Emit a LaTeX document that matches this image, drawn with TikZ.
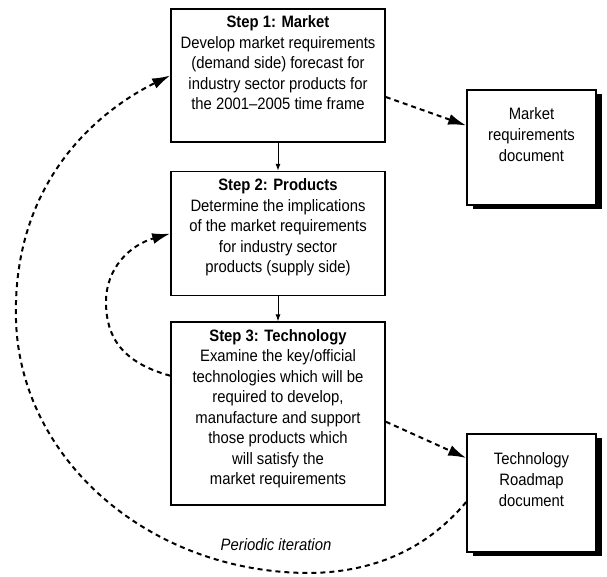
\documentclass[tikz,border=0pt]{standalone}
\usepackage{fontspec}
\setmainfont{Liberation Sans}[FakeStretch=0.9]
\usepackage{tikz}
\usetikzlibrary{positioning,arrows.meta,shadows}

\newcommand{\steptext}[3]{\parbox[c][#1][t]{204pt}{\centering\textbf{#2}\\#3}}

\begin{document}
\begin{tikzpicture}[x=1pt,y=-1pt]

\useasboundingbox (0,0) rectangle (607,576);

\tikzstyle{stepbox} = [draw, line width=1.6pt, rectangle, inner xsep=5pt, inner ysep=7pt, font=\fontsize{16.5}{20.5}\selectfont]
\tikzstyle{docbox} = [draw, fill=white, line width=1.6pt, rectangle, minimum width=129pt, align=center, font=\fontsize{16.5}{21}\selectfont, drop shadow={shadow xshift=6pt, shadow yshift=-4pt, fill=black, opacity=1}]
\tikzstyle{loopline} = [line width=2pt, dash pattern=on 5pt off 4pt, -{Latex[length=18pt,width=11pt]}]
\tikzstyle{flowline} = [line width=1pt, -{Latex[length=7pt,width=5pt]}]

% the three steps
\node (step1) [stepbox] at (278,75.5) {\steptext{119pt}{Step 1: Market}{Develop market requirements\\(demand side) forecast for\\industry sector products for\\the 2001--2005 time frame}};
\node (step2) [stepbox,below=28pt of step1] {\steptext{110pt}{Step 2: Products}{Determine the implications\\of the market requirements\\for industry sector\\products (supply side)}};
\node (step3) [stepbox,below=25pt of step2] {\steptext{169pt}{Step 3: Technology}{Examine the key/official\\technologies which will be\\required to develop,\\manufacture and support\\those products which\\will satisfy the\\market requirements}};

% documents
\node (market) [docbox,minimum height=115pt] at (531.5,147.5) {Market\\requirements\\document\\[4pt]};
\node (tech) [docbox,minimum height=118pt] at (531.5,493) {Technology\\Roadmap\\document\\[6pt]};

\draw [flowline] (step1) -- (step2);
\draw [flowline] (step2) -- (step3);

\draw [loopline] ([yshift=-21.5pt]step1.east) -- ([yshift=22pt]market.west);
\draw [loopline] ([yshift=-8pt]step3.east) -- ([yshift=35pt]tech.west);

% iteration loops
\draw [loopline] ([yshift=38pt]step3.west) .. controls (120,362) and (106,335) .. (106,302)
  .. controls (106,268) and (130,245) .. (step2.west);
\draw [loopline] ([yshift=-9pt]tech.west) .. controls (430,545) and (380,572) .. (310,573)
  .. controls (150,573) and (20,460) .. (16,320)
  .. controls (12,180) and (100,110) .. (step1.west);

\node (iterlabel) at (276,545) {\fontsize{16.5}{20}\selectfont\itshape Periodic iteration};

\end{tikzpicture}
\end{document}
